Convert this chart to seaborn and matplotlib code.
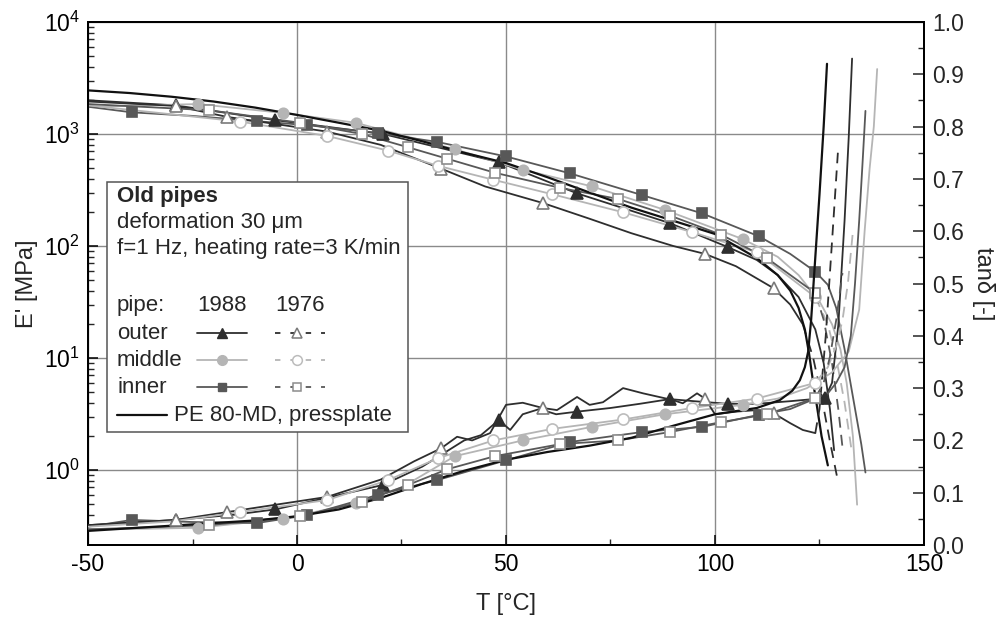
import numpy as np
import pandas as pd
import matplotlib
matplotlib.use("Agg")
import matplotlib.pyplot as plt
import matplotlib.ticker as mt
from matplotlib.lines import Line2D
from matplotlib.patches import Rectangle
import seaborn as sns

# ---------------- data ----------------
# PE 80-MD, pressplate (no markers)
pe_T_E = [-50, -40, -30, -20, -10, 0, 10, 20, 30, 40, 50, 60, 70, 80, 90, 100, 110, 115, 118, 120, 121.5, 122.5, 123.5, 124.5, 125.5, 127]
pe_E = [2450, 2320, 2150, 1950, 1720, 1480, 1260, 1070, 860, 680, 550, 410, 300, 220, 168, 128, 78, 55, 40, 28, 18, 11, 6, 3.5, 2.0, 1.1]
pe_T_tan = [-50, -40, -30, -20, -10, 0, 10, 20, 30, 40, 50, 60, 70, 80, 90, 100, 110, 115.5, 118.5, 120.3, 121.5, 122.3, 123, 124, 125, 126, 126.8]
pe_tan = [0.027, 0.032, 0.037, 0.042, 0.047, 0.055, 0.068, 0.09, 0.117, 0.142, 0.163, 0.178, 0.19, 0.205, 0.228, 0.25, 0.262, 0.277, 0.295, 0.315, 0.34, 0.37, 0.43, 0.55, 0.67, 0.8, 0.92]

# outer 1988 (filled triangles)
o88_marks = [-29, -5.3, 20.6, 48.3, 67, 89.2, 103, 126.3]
o88_T_E = [-50, -29, -5.3, 20.6, 48.3, 67, 89.2, 103, 110, 115, 120, 124, 126, 127.5, 128.5]
o88_E = [2000, 1800, 1330, 1000, 560, 295, 160, 98, 75, 55, 35, 18, 9, 3.5, 1.5]
o88_T_tan = [-50, -29, -15, -5.3, 7, 20.6, 30, 36, 40, 44, 48.3, 51, 54, 58, 62, 67, 75, 82, 89.2, 95, 103, 110, 118, 126.3, 128, 129.5, 131, 132, 132.8]
o88_tan = [0.038, 0.048, 0.058, 0.068, 0.09, 0.115, 0.15, 0.18, 0.2, 0.21, 0.239, 0.22, 0.25, 0.26, 0.25, 0.255, 0.262, 0.27, 0.279, 0.275, 0.27, 0.27, 0.275, 0.281, 0.31, 0.42, 0.62, 0.78, 0.93]

# outer 1976 (open triangles)
o76_marks = [-29, -16.7, 7.2, 34.5, 58.8, 97.6, 114]
o76_T_E = [-50, -29, -16.7, 7.2, 20, 34.5, 45, 58.8, 70, 80, 90, 97.6, 105, 114, 118, 121, 123.5, 125.5, 127.5, 129.4]
o76_E = [1950, 1780, 1420, 1050, 800, 490, 340, 242, 175, 130, 100, 85, 66, 42, 30, 20, 10, 4.5, 1.8, 0.8]
o76_T_tan = [-50, -29, -16.7, 7.2, 20, 28, 34.5, 38.3, 41.9, 46.2, 50, 54, 58.8, 62.2, 67, 70, 73.2, 78, 82.8, 90, 92.3, 95.7, 97.6, 100, 105, 110, 114, 118, 121, 124, 125, 126.5, 128, 129.4]
o76_tan = [0.038, 0.048, 0.063, 0.092, 0.125, 0.16, 0.185, 0.207, 0.2, 0.214, 0.268, 0.272, 0.262, 0.258, 0.283, 0.268, 0.273, 0.3, 0.29, 0.277, 0.271, 0.29, 0.28, 0.25, 0.255, 0.258, 0.252, 0.233, 0.22, 0.214, 0.26, 0.4, 0.58, 0.75]

# middle 1988 (filled circles)
m88_marks = [-23.7, -3.3, 14, 37.8, 54, 70.6, 88, 106.7]
m88_T_E = [-50, -23.7, -3.3, 14, 37.8, 54, 70.6, 88, 106.7, 115, 120, 125, 128, 130, 131.5, 133, 134]
m88_E = [1750, 1850, 1540, 1260, 730, 480, 340, 210, 115, 80, 55, 32, 20, 12, 6, 2, 0.49]
m88_T_tan = [-50, -37, -23.7, -3.3, 14, 25, 37.8, 54, 70.6, 88, 106.7, 115, 122, 128, 132, 134.5, 135.8, 137, 138, 138.8]
m88_tan = [0.03, 0.031, 0.033, 0.05, 0.08, 0.11, 0.17, 0.2, 0.226, 0.25, 0.268, 0.28, 0.3, 0.33, 0.37, 0.45, 0.6, 0.72, 0.8, 0.91]

# middle 1976 (open circles)
m76_marks = [-13.6, 7.2, 21.8, 33.7, 47, 61, 78, 94.5, 110, 124]
m76_T_E = [-50, -13.6, 7.2, 21.8, 33.7, 47, 61, 78, 94.5, 110, 124, 127, 129, 131, 132.8]
m76_E = [1800, 1290, 960, 710, 520, 390, 290, 200, 133, 88, 35, 20, 10, 4, 1.4]
m76_T_tan = [-50, -30, -13.6, 7.2, 21.8, 33.7, 47, 61, 78, 94.5, 110, 124, 127, 129, 130.5, 131.8, 133]
m76_tan = [0.035, 0.045, 0.063, 0.086, 0.124, 0.166, 0.2, 0.222, 0.24, 0.262, 0.28, 0.31, 0.34, 0.38, 0.43, 0.5, 0.6]

# inner 1988 (filled squares)
i88_marks = [-39.5, -9.6, 2.4, 19.4, 33.5, 50, 65.3, 82.5, 97, 110.5, 124]
i88_T_E = [-50, -39.5, -25, -9.6, 2.4, 19.4, 33.5, 50, 65.3, 82.5, 97, 110.5, 118, 124, 127, 129, 131, 133, 135, 136]
i88_E = [1750, 1560, 1450, 1300, 1200, 1020, 850, 630, 445, 285, 195, 122, 85, 59, 45, 28, 12, 4.5, 1.7, 0.95]
i88_T_tan = [-50, -39.5, -25, -9.6, 2.4, 19.4, 33.5, 50, 65.3, 82.5, 97, 110.5, 118, 127, 129, 131, 132.5, 133.5, 134.5, 135.3, 136]
i88_tan = [0.035, 0.048, 0.044, 0.042, 0.057, 0.096, 0.124, 0.162, 0.197, 0.216, 0.226, 0.249, 0.26, 0.29, 0.31, 0.34, 0.4, 0.5, 0.62, 0.73, 0.83]

# inner 1976 (open squares)
i76_marks = [-21, 0.7, 15.5, 26.6, 36, 47.4, 63, 76.8, 89.2, 101.5, 112.4, 124]
i76_T_E = [-50, -21, 0.7, 15.5, 26.6, 36, 47.4, 63, 76.8, 89.2, 101.5, 112.4, 124, 126, 128, 129.5, 130.5]
i76_E = [1850, 1630, 1260, 1000, 760, 600, 450, 330, 263, 187, 126, 78, 38, 22, 9, 3.5, 1.6]
i76_T_tan = [-50, -35, -21, 0.7, 15.5, 26.6, 36, 47.4, 63, 76.8, 89.2, 101.5, 112.4, 124, 126, 127.5, 129, 130.5]
i76_tan = [0.03, 0.034, 0.038, 0.055, 0.082, 0.115, 0.145, 0.17, 0.193, 0.2, 0.216, 0.235, 0.25, 0.281, 0.31, 0.36, 0.43, 0.52]

x_ticks = [-50, 0, 50, 100, 150]
left_tick_exps = [0, 1, 2, 3, 4]
right_ticks = [0.0, 0.1, 0.2, 0.3, 0.4, 0.5, 0.6, 0.7, 0.8, 0.9, 1.0]

# ---------------- style ----------------
sns.set_theme(style="white")
plt.rcParams['font.family'] = ['Liberation Sans', 'DejaVu Sans']
plt.rcParams['mathtext.default'] = 'regular'

C_PE = '#111111'
C_OUT = '#2e2e2e'
C_MID = '#b5b5b5'
C_INN = '#585858'
DASH = (0, (6, 4))

series = [
    dict(TE=o88_T_E, E=o88_E, Tt=o88_T_tan, t=o88_tan, marks=o88_marks, c=C_OUT, m='^', fc=C_OUT, ec=C_OUT, ms=8, dE=None, dt=None),
    dict(TE=m88_T_E, E=m88_E, Tt=m88_T_tan, t=m88_tan, marks=m88_marks, c=C_MID, m='o', fc=C_MID, ec=C_MID, ms=7.5, dE=None, dt=None),
    dict(TE=i88_T_E, E=i88_E, Tt=i88_T_tan, t=i88_tan, marks=i88_marks, c=C_INN, m='s', fc=C_INN, ec=C_INN, ms=6.5, dE=None, dt=None),
    dict(TE=o76_T_E, E=o76_E, Tt=o76_T_tan, t=o76_tan, marks=o76_marks, c=C_OUT, m='^', fc='white', ec='#7a7a7a', ms=8.5, dE=121, dt=124),
    dict(TE=m76_T_E, E=m76_E, Tt=m76_T_tan, t=m76_tan, marks=m76_marks, c=C_MID, m='o', fc='white', ec='#bcbcbc', ms=8, dE=124, dt=124),
    dict(TE=i76_T_E, E=i76_E, Tt=i76_T_tan, t=i76_tan, marks=i76_marks, c=C_INN, m='s', fc='white', ec='#8c8c8c', ms=7, dE=124, dt=124),
]

fig = plt.figure(figsize=(9.99, 6.19), dpi=100)
ax = fig.add_axes([0.0881, 0.1195, 0.8368, 0.845])
ax2 = ax.twinx()
ax.set_zorder(1)
ax2.set_zorder(2)
ax.patch.set_visible(True)
ax2.patch.set_visible(False)


def draw(axis, T, V, s, dash_from):
    T = np.asarray(T, float)
    V = np.asarray(V, float)
    mk = [i for i, t in enumerate(T) if any(abs(t - m) < 1e-9 for m in s['marks'])]
    if dash_from is None:
        cut = len(T)
    else:
        cut = int(np.searchsorted(T, dash_from)) + 1
    solid = pd.DataFrame({'T': T[:cut], 'V': V[:cut]})
    sns.lineplot(data=solid, x='T', y='V', ax=axis, sort=False, estimator=None,
                 color=s['c'], lw=1.3, legend=False, zorder=3)
    if cut < len(T):
        tail = pd.DataFrame({'T': T[cut - 1:], 'V': V[cut - 1:]})
        sns.lineplot(data=tail, x='T', y='V', ax=axis, sort=False, estimator=None,
                     color=s['c'], lw=1.3, linestyle=DASH, legend=False, zorder=3)
    pts = pd.DataFrame({'T': T[mk], 'V': V[mk]})
    axis.plot(pts['T'], pts['V'], ls='none', marker=s['m'], ms=s['ms'],
              mfc=s['fc'], mec=s['ec'], mew=1.2, zorder=4)


for s in series:
    draw(ax, s['TE'], s['E'], s, s['dE'])
    draw(ax2, s['Tt'], s['t'], s, s['dt'])

sns.lineplot(x=pe_T_E, y=pe_E, ax=ax, sort=False, estimator=None, color=C_PE, lw=1.6, legend=False, zorder=3)
sns.lineplot(x=pe_T_tan, y=pe_tan, ax=ax2, sort=False, estimator=None, color=C_PE, lw=1.6, legend=False, zorder=3)

# ---------------- axes ----------------
ax.set_yscale('log')
ax.set_xlim(-50, 150)
ax.set_ylim(10 ** -0.67, 1e4)
ax2.set_ylim(0, 1.0)

ax.set_xticks(x_ticks)
ax.set_xticklabels([str(v) for v in x_ticks])
ax.xaxis.set_minor_locator(mt.MultipleLocator(25))
ax.yaxis.set_major_locator(mt.FixedLocator([10.0 ** e for e in left_tick_exps]))
ax.yaxis.set_major_formatter(mt.FuncFormatter(lambda v, p: r'$10^{%d}$' % round(np.log10(v))))
ax.yaxis.set_minor_locator(mt.LogLocator(base=10, subs=np.arange(2, 10)))
ax.yaxis.set_minor_formatter(mt.NullFormatter())

ax2.set_yticks(right_ticks)
ax2.set_yticklabels(['%.1f' % v for v in right_ticks])
ax2.yaxis.set_minor_locator(mt.MultipleLocator(0.05))

ax.grid(True, which='major', color='#8a8a8a', lw=1.0)
ax.grid(False, which='minor')
ax2.grid(False)

TS = 16.5
ax.tick_params(axis='both', which='major', direction='in', length=7, width=1.1, labelsize=TS, colors='black', pad=6)
ax.tick_params(axis='both', which='minor', direction='in', length=4, width=1.0)
ax.tick_params(left=True, bottom=True, top=False, right=False, which='both')
ax2.tick_params(axis='y', which='major', direction='in', length=8, width=1.1, labelsize=TS, pad=6)
ax2.tick_params(axis='y', which='minor', direction='in', length=4, width=1.0)

for a in (ax, ax2):
    for sp in a.spines.values():
        sp.set_color('black')
        sp.set_linewidth(1.4)

ax.set_xlabel('T [°C]', fontsize=17, labelpad=12)
ax.set_ylabel("E' [MPa]", fontsize=17, labelpad=4)
ax2.set_ylabel('tanδ [-]', fontsize=17, rotation=270, labelpad=22)

# ---------------- custom legend box ----------------
def ax_x(px):
    return (px - 88) / 836.0


def ax_y(py):
    return (545 - py) / 523.0


tr = ax2.transAxes
box = Rectangle((ax_x(107), ax_y(432)), ax_x(408) - ax_x(107), ax_y(182) - ax_y(432),
                transform=tr, facecolor='white', edgecolor='#555555', lw=1.1, zorder=20)
ax2.add_patch(box)
fs = 16
ax2.text(ax_x(117), ax_y(197), 'Old pipes', transform=tr, fontsize=fs, fontweight='bold', va='center', ha='left', zorder=21)
ax2.text(ax_x(117), ax_y(223), 'deformation 30 μm', transform=tr, fontsize=fs, va='center', ha='left', zorder=21)
ax2.text(ax_x(117), ax_y(249), 'f=1 Hz, heating rate=3 K/min', transform=tr, fontsize=fs, va='center', ha='left', zorder=21)
ax2.text(ax_x(117), ax_y(305), 'pipe:', transform=tr, fontsize=fs, va='center', ha='left', zorder=21)
ax2.text(ax_x(222), ax_y(305), '1988', transform=tr, fontsize=fs, va='center', ha='center', zorder=21)
ax2.text(ax_x(300), ax_y(305), '1976', transform=tr, fontsize=fs, va='center', ha='center', zorder=21)

row_names = ['outer', 'middle', 'inner']
row_py = [333, 360, 387]
for k, (nm, py) in enumerate(zip(row_names, row_py)):
    ax2.text(ax_x(117), ax_y(py), nm, transform=tr, fontsize=fs, va='center', ha='left', zorder=21)
    s88 = series[k]
    s76 = series[k + 3]
    ax2.add_line(Line2D([ax_x(197), ax_x(222), ax_x(247)], [ax_y(py)] * 3, transform=tr,
                        color=s88['c'], lw=1.3, marker=s88['m'], markevery=[1], ms=s88['ms'] - 0.5,
                        mfc=s88['fc'], mec=s88['ec'], zorder=22))
    ax2.add_line(Line2D([ax_x(275), ax_x(325)], [ax_y(py)] * 2, transform=tr,
                        color=s76['c'], lw=1.3, linestyle=(0, (3, 5.5)), zorder=22))
    ax2.add_line(Line2D([ax_x(297)], [ax_y(py)], transform=tr, ls='none', marker=s76['m'],
                        ms=s76['ms'] - 1, mfc=s76['fc'], mec=s76['ec'], mew=1.1, zorder=23))

ax2.add_line(Line2D([ax_x(117), ax_x(167)], [ax_y(415)] * 2, transform=tr, color=C_PE, lw=1.6, zorder=22))
ax2.text(ax_x(174), ax_y(415), 'PE 80-MD, pressplate', transform=tr, fontsize=fs, va='center', ha='left', zorder=21)

fig.savefig('out.png', dpi=100)
